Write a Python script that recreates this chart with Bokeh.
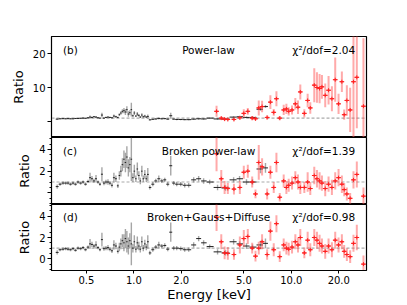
from bokeh.plotting import figure
from bokeh.layouts import column
from bokeh.models import Range1d, FixedTicker, CustomJSTickFormatter, Span, Label
from bokeh.embed import file_html
from bokeh.resources import INLINE
import numpy as np

# ---------------- data ----------------
black_energy = [0.326, 0.340, 0.355, 0.369, 0.382, 0.396, 0.411, 0.426, 0.442, 0.459, 0.476, 0.493, 0.512,
                0.527, 0.542, 0.558, 0.575, 0.592, 0.609, 0.627, 0.646, 0.665, 0.685, 0.705, 0.726, 0.747, 0.769,
                0.792, 0.809, 0.827, 0.846, 0.865, 0.884, 0.903, 0.923, 0.943, 0.964, 0.986, 1.007, 1.030, 1.052,
                1.076, 1.099, 1.124, 1.148, 1.174, 1.200, 1.226,
                1.263, 1.319, 1.378, 1.440, 1.504, 1.571, 1.641, 1.715, 1.791, 1.871, 1.984, 2.103, 2.229, 2.398,
                2.579, 2.773,
                3.03, 3.40, 3.82, 4.30, 4.69, 5.19, 5.67, 6.37, 6.85]
black_ratio_pl = [0.7, 0.8, 0.85, 0.8, 0.85, 0.8, 0.8, 0.9, 0.9, 0.95, 1.0, 0.95, 1.1,
                  1.3, 1.2, 1.4, 1.3, 1.1, 1.0, 1.9, 1.0, 1.2, 1.3, 1.2, 1.1, 1.6, 1.4,
                  1.2, 2.0, 2.5, 3.0, 3.2, 2.8, 3.5, 2.2, 2.6, 3.5, 1.7, 2.5, 1.6, 2.2, 1.8, 1.3, 1.9, 1.4, 1.6, 1.3, 1.5,
                  0.5, 0.65, 0.75, 0.9, 0.8, 0.85, 0.7, 1.7, 0.7, 0.6, 0.6, 0.55, 0.55, 0.7, 0.8, 0.75,
                  1.0, 0.75, 0.7, 1.3, 1.4, 1.2, 1.2, 3.6, 4.4]
black_ratio_bpl = [0.58, 0.8, 0.9, 0.9, 0.9, 0.8, 0.9, 0.8, 1.0, 0.9, 1.0, 0.8, 1.05,
                   1.4, 1.3, 1.1, 1.3, 1.0, 0.8, 1.72, 0.9, 1.0, 1.0, 0.9, 0.7, 1.4, 1.3,
                   0.65, 1.6, 2.0, 2.6, 3.1, 2.8, 3.3, 2.3, 2.6, 3.1, 1.4, 2.0, 1.3, 2.2, 1.6, 1.1, 2.0, 1.3, 1.7, 1.3, 1.7,
                   0.5, 0.8, 1.1, 1.3, 1.1, 1.2, 0.8, 2.5, 0.9, 0.8, 0.8, 0.7, 0.7, 1.2, 1.3, 1.1,
                   1.0, 0.5, 0.45, 1.2, 1.3, 1.0, 1.0, 2.2, 2.3]
black_ratio_full = [0.6, 0.85, 0.9, 0.95, 0.9, 0.85, 0.95, 0.8, 1.0, 0.95, 1.05, 0.85, 1.1,
                    1.4, 1.35, 1.2, 1.3, 1.05, 0.85, 1.8, 0.95, 1.0, 1.05, 0.9, 0.75, 1.3, 1.2,
                    0.7, 1.1, 1.4, 1.7, 1.5, 1.9, 1.6, 1.2, 1.7, 1.4, 1.0, 1.6, 0.9, 1.5, 1.2, 0.9, 1.6, 1.0, 1.4, 1.1, 1.6,
                    0.55, 0.85, 1.1, 1.3, 1.2, 1.25, 0.9, 2.5, 1.0, 1.0, 0.95, 0.85, 0.85, 1.3, 1.9, 1.5,
                    1.15, 0.65, 0.55, 1.6, 1.4, 1.2, 1.1, 1.3, 1.45]
black_err = [0.2, 0.15, 0.15, 0.15, 0.15, 0.15, 0.15, 0.15, 0.15, 0.15, 0.15, 0.15, 0.15,
             0.45, 0.25, 0.2, 0.35, 0.15, 0.15, 0.65, 0.2, 0.2, 0.25, 0.2, 0.2, 0.45, 0.3,
             0.2, 0.4, 0.5, 0.6, 0.8, 0.9, 1.0, 0.8, 0.7, 2.0, 0.4, 0.6, 0.3, 0.6, 0.4, 0.3, 0.5, 0.3, 0.4, 0.3, 0.6,
             0.2, 0.2, 0.2, 0.3, 0.2, 0.2, 0.2, 0.9, 0.2, 0.2, 0.2, 0.2, 0.2, 0.25, 0.25, 0.25,
             0.2, 0.25, 0.25, 0.25, 0.25, 0.25, 0.25, 0.4, 0.45]

red_energy = [3.35, 3.59, 3.77, 3.95, 4.32, 4.71, 4.99, 5.29, 5.64, 5.92, 6.21, 6.52, 7.02, 7.36, 7.73,
              8.04, 8.44, 8.94, 9.30, 9.62, 10.10, 10.60, 11.02, 11.40, 12.09, 12.69, 13.19, 13.98, 14.54,
              15.11, 15.64, 16.41, 17.23, 18.09, 18.99, 19.94, 20.93, 21.65, 22.51, 23.63, 24.80, 26.04, 28.70]
red_ratio_pl = [3.0, 1.0, 0.7, 0.6, 0.6, 1.1, 2.4, 3.0, 1.0, 0.8, 4.0, 4.4, 1.2, 5.7, 2.7,
                6.7, 1.0, 3.4, 3.7, 3.0, 3.4, 5.2, 4.2, 8.7, 2.4, 6.2, 4.0, 10.7, 10.0,
                9.7, 10.2, 7.7, 9.2, 6.7, 12.3, 5.2, 11.7, 2.0, 6.2, 3.4, 11.7, 13.0, 4.5]
red_err_pl = [1.6, 0.5, 0.4, 0.4, 0.4, 0.5, 1.2, 1.0, 0.6, 0.5, 2.2, 1.7, 0.6, 2.0, 1.0,
              2.2, 0.6, 1.5, 1.5, 1.2, 1.3, 1.7, 2.0, 2.2, 1.2, 2.0, 1.7, 5.0, 4.5,
              4.3, 3.5, 3.5, 4.2, 3.7, 6.5, 3.0, 3.0, 1.5, 4.5, 6.5, 17.0, 15.0, 20.0]
red_ratio_bpl = [3.6, 1.3, 0.5, 0.4, 0.35, 0.5, 1.9, 2.0, 1.0, -0.1, 2.8, 2.4, -0.1, 1.9, 0.5,
                 2.8, -0.4, 1.1, 0.5, 0.7, 0.9, 1.4, 1.0, 0.5, 0.5, 1.0, 0.4, 1.6, 1.3,
                 1.1, 0.9, 0.4, 0.8, 0.5, 1.1, 1.4, 0.8, 0.3, -0.1, -0.5, 1.2, 1.7, -0.3]
red_err_bpl = [1.6, 0.8, 0.6, 0.5, 0.5, 0.6, 0.6, 0.6, 0.5, 0.4, 1.6, 0.8, 0.5, 0.6, 0.5,
               0.9, 0.4, 0.6, 0.6, 0.6, 0.6, 0.6, 0.7, 0.6, 0.5, 0.9, 0.6, 0.8, 0.8,
               0.8, 0.7, 0.7, 0.7, 0.7, 0.8, 0.8, 0.8, 0.6, 0.6, 0.5, 0.8, 1.2, 0.8]
red_ratio_full = [3.9, 1.6, 0.55, 0.5, 0.4, 1.3, 1.9, 2.1, 1.0, 0.25, 1.0, 1.6, 0.4, 2.6, 0.85,
                  3.3, 0.2, 1.3, 1.0, 0.9, 1.1, 1.6, 1.3, 2.0, 0.55, 1.75, 0.85, 2.0, 1.75,
                  1.45, 1.2, 0.7, 1.2, 0.85, 1.75, 1.3, 1.6, 0.7, 0.4, 0.2, 1.45, 2.0, -0.5]
red_err_full = [1.3, 0.7, 0.6, 0.6, 0.5, 0.8, 0.8, 0.7, 0.5, 0.5, 0.6, 0.7, 0.5, 0.9, 0.6,
                0.8, 0.5, 0.6, 0.6, 0.6, 0.6, 0.7, 0.7, 0.8, 0.5, 0.8, 0.6, 0.8, 0.8,
                0.8, 0.7, 0.7, 0.7, 0.7, 0.8, 0.7, 0.7, 0.6, 0.6, 0.6, 0.8, 1.2, 0.8]

panel_tags = ["(b)", "(c)", "(d)"]
panel_models = ["Power-law", "Broken power-law", "Broken+Gauss+Diffuse"]
panel_chi = ["χ²/dof=2.04", "χ²/dof=1.39", "χ²/dof=0.98"]
x_ticks = [0.5, 1, 2, 5, 10, 20]

FONT = "DejaVu Sans"

# bin edges for black data (geometric midpoints between neighbours)
be = np.array(black_energy)
mids = np.sqrt(be[:-1] * be[1:])
b_lo = np.concatenate([[be[0] ** 2 / mids[0]], mids])
b_hi = np.concatenate([mids, [be[-1] ** 2 / mids[-1]]])
re_ = np.array(red_energy)
r_lo = re_ / 1.035
r_hi = re_ * 1.035


def style_axis(ax):
    ax.axis_label_text_font = FONT
    ax.axis_label_text_font_size = "13px"
    ax.axis_label_text_font_style = "normal"
    ax.axis_label_text_color = "black"
    ax.major_label_text_font = FONT
    ax.major_label_text_font_size = "10px"
    ax.major_label_text_color = "black"
    ax.major_label_standoff = 2
    ax.major_tick_in = 0
    ax.minor_tick_in = 0
    ax.axis_line_color = "black"
    ax.major_tick_line_color = "black"
    ax.minor_tick_line_color = "black"


def make_panel(height, btop, bbot, yr, ticks, minor, hide_zero, idx, ty,
               yb, eb, yr_, er, show_x):
    p = figure(width=386, height=height, x_axis_type="log",
               x_range=Range1d(0.3, 30), y_range=Range1d(*yr),
               output_backend="svg", toolbar_location=None,
               min_border_left=51, min_border_right=20,
               min_border_top=btop, min_border_bottom=bbot)
    p.grid.visible = False
    p.outline_line_color = "black"
    p.outline_line_width = 1.2
    p.background_fill_color = "white"
    p.border_fill_color = "white"

    yb = np.array(yb); eb = np.array(eb)
    yr_ = np.array(yr_); er = np.array(er)

    p.add_layout(Span(location=1, dimension="width", line_color="#aaaaaa",
                      line_dash="3 2", line_width=1.2, level="underlay"))

    # black data
    p.segment(x0=be, x1=be, y0=yb - eb, y1=yb + eb, line_color="#808080",
              line_alpha=0.7, line_width=1.4)
    p.segment(x0=b_lo, x1=b_hi, y0=yb, y1=yb, line_color="#222222", line_width=1)
    # red data
    p.segment(x0=re_, x1=re_, y0=yr_ - er, y1=yr_ + er, line_color="#ff5555",
              line_alpha=0.5, line_width=2)
    p.segment(x0=r_lo, x1=r_hi, y0=yr_, y1=yr_, line_color="#ff2020", line_width=1)
    p.scatter(re_, yr_, marker="cross", size=4, line_color="#ff2020", line_width=1)

    # y axis
    p.yaxis.ticker = FixedTicker(ticks=ticks, minor_ticks=minor)
    if hide_zero:
        p.yaxis.formatter = CustomJSTickFormatter(
            code="return (Math.abs(tick) < 1e-9) ? '' : tick.toFixed(0);")
    else:
        p.yaxis.formatter = CustomJSTickFormatter(code="return tick.toFixed(0);")
    p.yaxis.axis_label = "Ratio"
    style_axis(p.yaxis[0])
    p.yaxis.axis_label_standoff = 4
    p.yaxis.major_tick_out = 4
    p.yaxis.minor_tick_out = 2

    if show_x:
        p.xaxis.ticker = FixedTicker(ticks=x_ticks, minor_ticks=[])
        p.xaxis.formatter = CustomJSTickFormatter(code="return tick.toFixed(1);")
        p.xaxis.axis_label = "Energy [keV]"
        style_axis(p.xaxis[0])
        p.xaxis.axis_label_standoff = 0
        p.xaxis.major_tick_out = 3
        p.xaxis.minor_tick_out = 0
    else:
        p.xaxis.visible = False

    common = dict(text_font=FONT, text_font_size="10.5px", text_baseline="middle",
                  text_color="black")
    p.add_layout(Label(x=0.355, y=ty, text=panel_tags[idx], text_align="left", **common))
    p.add_layout(Label(x=2.98, y=ty, text=panel_models[idx], text_align="center", **common))
    p.add_layout(Label(x=25.4, y=ty, text=panel_chi[idx], text_align="right", **common))
    return p


minor_small = [-1, -0.5, 0.5, 1, 1.5, 2.5, 3, 3.5, 4.5, 5]

p1 = make_panel(137, 36, 0, (-4.7, 25), [0, 10, 20], [], True, 0, 20.9,
                black_ratio_pl, black_err, red_ratio_pl, red_err_pl, False)
p2 = make_panel(67, 0, 0, (-1.07, 5.1), [0, 2, 4], minor_small, True, 1, 3.9,
                black_ratio_bpl, black_err, red_ratio_bpl, red_err_bpl, False)
p3 = make_panel(100, 0, 32, (-1.1, 5.1), [0, 2, 4], minor_small, False, 2, 3.92,
                black_ratio_full, black_err, red_ratio_full, red_err_full, True)

layout = column(p1, p2, p3, spacing=0)
open("out.html", "w").write(file_html(layout, INLINE))
